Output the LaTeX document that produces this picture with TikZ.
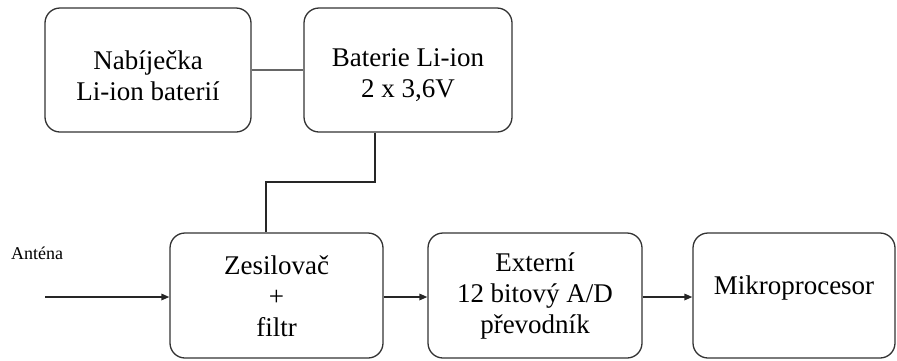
\documentclass[tikz,border=0pt]{standalone}
\usepackage{fontspec}
\setmainfont{Liberation Serif}
\usetikzlibrary{arrows.meta}
\begin{document}
\begin{tikzpicture}[x=1pt,y=-1pt,
  blk/.style={draw=black!80, line width=1.3pt, rounded corners=15pt, inner sep=0pt},
  txt/.style={align=center, font=\fontsize{27}{31}\selectfont, inner sep=0pt},
  wire/.style={draw=black!85, line width=1.2pt},
  thickwire/.style={draw=black!60, line width=2.8pt},
  arr/.style={draw=black!85, line width=1.6pt, -{Triangle[length=8pt,width=6.5pt]}}]
\useasboundingbox (0,0) rectangle (897,360);
\node[blk, minimum width=206pt, minimum height=124pt] (b1) at (148,70) {};
\node[txt] (t1) at (148,76) {Nabíječka\\Li-ion baterií};
\node[blk, minimum width=208pt, minimum height=124pt] (b2) at (408,70) {};
\node[txt] (t2) at (408,75) {Baterie Li-ion\\2 x 3,6V};
\node[blk, minimum width=213pt, minimum height=125pt] (b3) at (276.5,295.5) {};
\node[txt] (t3) at (276.5,296) {Zesilovač\\+\\filtr};
\node[blk, minimum width=214pt, minimum height=125pt] (b4) at (535,295.5) {};
\node[txt] (t4) at (535,296) {Externí\\12 bitový A/D\\převodník};
\node[blk, minimum width=202pt, minimum height=125pt] (b5) at (794,295.5) {};
\node[txt] (t5) at (794,288) {Mikroprocesor};
\node[font=\fontsize{18}{20}\selectfont, inner sep=0pt] (ant) at (37,253) {Anténa};
\draw[thickwire] (b1.east) -- (b2.west);
\coordinate (j1) at (375,182);
\coordinate (j2) at (266,182);
\draw[wire] (j1 |- b2.south) -- (j1) -- (j2) -- (j2 |- b3.north);
\coordinate (a0) at (45,297);
\draw[arr] (a0) -- (b3.west |- a0);
\draw[arr] (b3.east |- a0) -- (b4.west |- a0);
\draw[arr] (b4.east |- a0) -- (b5.west |- a0);
\end{tikzpicture}
\end{document}
